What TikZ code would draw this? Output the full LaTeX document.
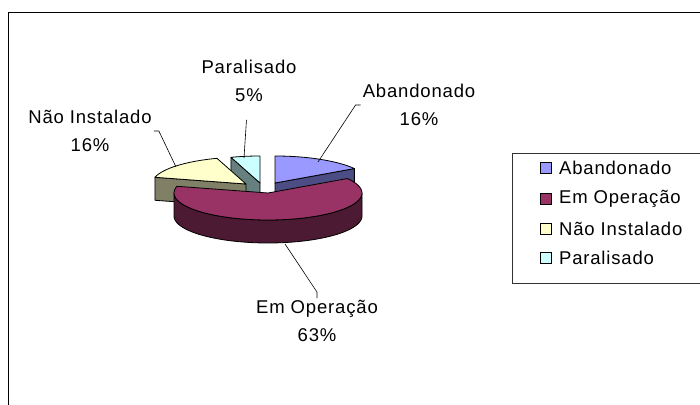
\documentclass[tikz,border=0pt]{standalone}
\usepackage{fontspec}
\setmainfont{Liberation Sans}[LetterSpace=4.5]
\usetikzlibrary{%
    calc,
    positioning
}

\definecolor{abandTop}{HTML}{9999FF}
\definecolor{abandSide}{HTML}{4D4D85}
\definecolor{operTop}{HTML}{993366}
\definecolor{operSide}{HTML}{4D1A33}
\definecolor{naoTop}{HTML}{FFFFCC}
\definecolor{naoSide}{HTML}{808066}
\definecolor{paraTop}{HTML}{CCFFFF}
\definecolor{paraSide}{HTML}{668080}

\begin{document}
\begin{tikzpicture}[x=1pt, y=-1pt,
        declare function={px(\a)=94*sin(\a); py(\a)=-27*cos(\a);},
        slice/.style={draw=black, line width=.8pt, line join=round, samples=60},
        leader/.style={draw=black, line width=.6pt},
        lbl/.style={align=center, inner sep=2pt,
                    font=\fontsize{18.5}{28}\selectfont},
        legtext/.style={anchor=west, inner sep=0pt,
                        font=\fontsize{18.5}{22}\selectfont},
        swatch/.style={draw=black, line width=.8pt, minimum size=11pt,
                       inner sep=0pt},
    ]
    \useasboundingbox (0,0) rectangle (700,404);
    \clip (0,0) rectangle (700,404);
    \draw[line width=.8pt] (8,12) rectangle (712,416);

    % Paralisado
    \draw[slice, fill=paraSide] (260,183) -- ({260+px(342)},{183+py(342)})
        -- ({260+px(342)},{206+py(342)}) -- (260,206) -- cycle;
    \draw[slice, fill=paraTop] (260,183)
        -- plot[domain=342:360] ({260+px(\x)},{183+py(\x)}) -- cycle;

    % Nao Instalado
    \draw[slice, fill=naoSide] (246,184) -- ({246+px(284.4)},{184+py(284.4)})
        -- ({246+px(284.4)},{207+py(284.4)}) -- (246,207) -- cycle;
    \draw[slice, fill=naoTop] (246,184)
        -- plot[domain=284.4:342] ({246+px(\x)},{184+py(\x)}) -- cycle;

    % Abandonado
    \draw[slice, fill=abandSide] (275,183) -- ({275+px(57.6)},{183+py(57.6)})
        -- ({275+px(57.6)},{206+py(57.6)}) -- (275,206) -- cycle;
    \draw[slice, fill=abandTop] (275,183)
        -- plot[domain=0:57.6] ({275+px(\x)},{183+py(\x)}) -- cycle;

    % Em Operacao
    \draw[slice, fill=operSide]
        plot[domain=90:270] ({268+px(\x)},{216+py(\x)})
        -- plot[domain=270:90] ({268+px(\x)},{193+py(\x)}) -- cycle;
    \draw[slice, fill=operTop] (268,193)
        -- plot[domain=57.6:284.4] ({268+px(\x)},{193+py(\x)}) -- cycle;

    % labels
    \node[lbl] (lblNao)   at (90,131)  {Não Instalado\\16\%};
    \node[lbl] (lblPara)  at (249,81)  {Paralisado\\5\%};
    \node[lbl] (lblAband) at (419,105) {Abandonado\\16\%};
    \node[lbl] (lblOper)  at (317,321) {Em Operação\\63\%};

    \coordinate (naoTip)   at (176,167);
    \coordinate (paraTip)  at (244,158);
    \coordinate (abandTip) at (318,162);
    \coordinate (operTip)  at (285,244);

    \draw[leader] (lblNao.east) -- ++(5,0) -- (naoTip);
    \draw[leader, shorten <=16pt] (lblPara) -- (paraTip);
    \draw[leader] (lblAband.west) -- ++(-5,0) -- (abandTip);
    \draw[leader] (lblOper.north) -- ++(0,-6) -- (operTip);

    % legend
    \draw[line width=.8pt, black!80] (512,153) rectangle (712,283);
    \foreach \Row/\Name/\Color/\Y in {%
        aband/Abandonado/abandTop/168,
        oper/Em Operação/operTop/199,
        nao/Não Instalado/naoTop/229,
        para/Paralisado/paraTop/258%
        } {
        \node[swatch, fill=\Color] (sw-\Row) at (546,\Y) {};
        \node[legtext, right=7pt of sw-\Row] (leg-\Row) {\Name};
    }
\end{tikzpicture}
\end{document}
